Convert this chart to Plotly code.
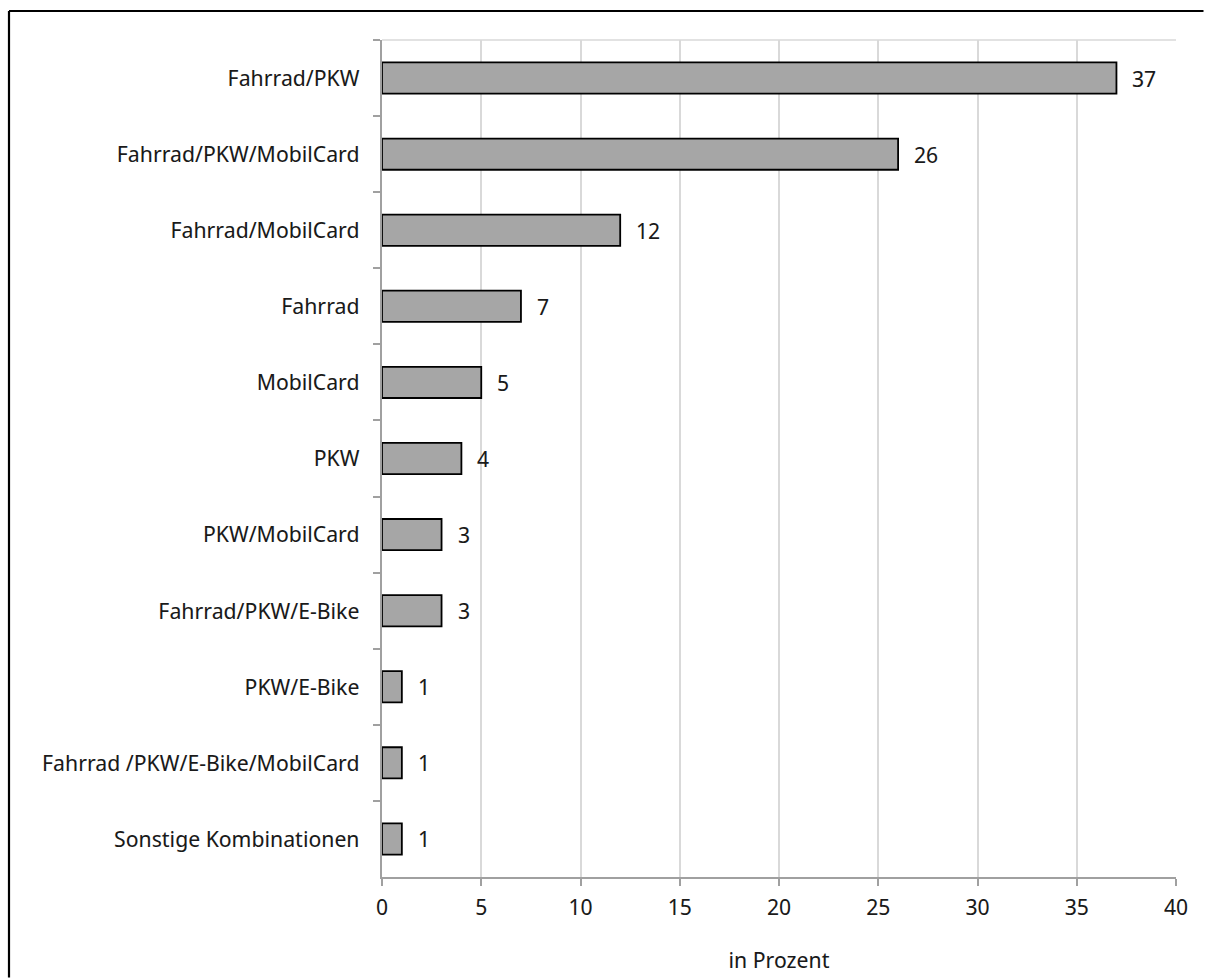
import plotly.graph_objects as go

categories = [
    "Fahrrad/PKW",
    "Fahrrad/PKW/MobilCard",
    "Fahrrad/MobilCard",
    "Fahrrad",
    "MobilCard",
    "PKW",
    "PKW/MobilCard",
    "Fahrrad/PKW/E-Bike",
    "PKW/E-Bike",
    "Fahrrad /PKW/E-Bike/MobilCard",
    "Sonstige Kombinationen",
]
values = [37, 26, 12, 7, 5, 4, 3, 3, 1, 1, 1]
x_ticks = [0, 5, 10, 15, 20, 25, 30, 35, 40]
x_title = "in Prozent"

FONT = "Noto Sans Display, Noto Sans, sans-serif"
FSIZE = 22.5
TEXT = "#1a1a1a"
AXIS = "#a0a0a0"
GRID = "#d9d9d9"

W, H = 1205, 979
ML, MR, MT, MB = 382, 29, 40, 102
PW, PH = W - ML - MR, H - MT - MB


def px_to_paper_x(px):
    return (px - ML) / PW


def px_to_paper_y(py):
    return (H - MB - py) / PH


fig = go.Figure(
    go.Bar(
        x=values,
        y=categories,
        orientation="h",
        marker=dict(color="#a6a6a6", line=dict(color="#000000", width=1.8)),
        width=0.41,
        hoverinfo="skip",
    )
)

# value labels to the right of each bar
for cat, val in zip(categories, values):
    fig.add_annotation(
        x=val, y=cat, text=str(val), showarrow=False,
        xanchor="left", xshift=14, yanchor="middle",
        font=dict(family=FONT, size=FSIZE, color=TEXT),
    )

# outer frame: left and top edges drawn as plain arrow lines from the corner
corner_x, corner_y = px_to_paper_x(9), px_to_paper_y(11)
for dx, dy in [(W - 9 + 6, 0), (0, H - 11 + 6)]:
    fig.add_annotation(
        x=corner_x, y=corner_y, xref="paper", yref="paper",
        text="", showarrow=True, arrowhead=0, arrowwidth=2.2,
        arrowcolor="#000000", ax=dx, ay=dy, standoff=0, startstandoff=0,
    )

# light top edge of the plot area joining the gridlines
fig.add_shape(type="line", xref="paper", yref="paper", x0=0, x1=1, y0=1, y1=1,
              line=dict(color=GRID, width=1.5), layer="below")

fig.update_layout(
    width=W, height=H,
    margin=dict(l=ML, r=MR, t=MT, b=MB),
    paper_bgcolor="white", plot_bgcolor="white",
    showlegend=False,
    font=dict(family=FONT, size=FSIZE, color=TEXT),
    xaxis=dict(
        range=[0, 40], tickvals=x_ticks, ticktext=[str(t) for t in x_ticks],
        showgrid=True, gridcolor=GRID, gridwidth=1.5,
        showline=True, linecolor=AXIS, linewidth=2,
        ticks="outside", ticklen=7, tickcolor=AXIS, tickwidth=1.5,
        ticklabelstandoff=2, automargin=False,
        zeroline=False, mirror=False,
        title=dict(text=x_title, standoff=31, font=dict(family=FONT, size=FSIZE, color=TEXT)),
        tickfont=dict(family=FONT, size=FSIZE, color=TEXT),
    ),
    yaxis=dict(
        type="category", autorange="reversed",
        categoryorder="array", categoryarray=categories,
        showgrid=False, showline=True, linecolor=AXIS, linewidth=2,
        ticks="outside", ticklen=7, tickcolor=AXIS, tickwidth=1.5,
        tickson="boundaries", ticklabelstandoff=16, automargin=False,
        tickfont=dict(family=FONT, size=FSIZE, color=TEXT),
    ),
)

fig.write_html("out.html", config={"displayModeBar": False})
